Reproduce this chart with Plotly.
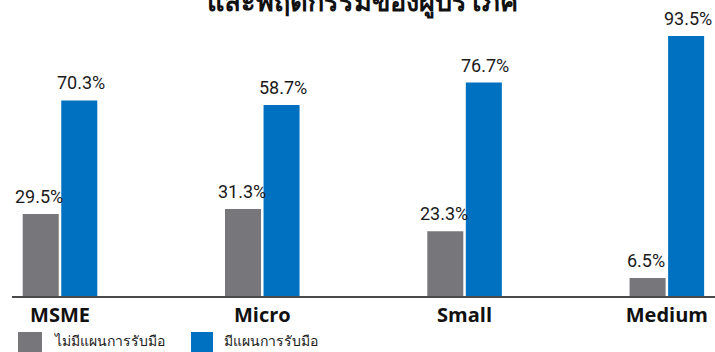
import plotly.graph_objects as go

categories = ["MSME", "Micro", "Small", "Medium"]
no_plan = [29.5, 31.3, 23.3, 6.5]
# bar heights as drawn in the picture (the Micro bar is drawn at ~68.7 although labelled 58.7%)
has_plan = [70.3, 68.7, 76.7, 93.5]
no_plan_labels = ["29.5%", "31.3%", "23.3%", "6.5%"]
has_plan_labels = ["70.3%", "58.7%", "76.7%", "93.5%"]
series_names = ["ไม่มีแผนการรับมือ", "มีแผนการรับมือ"]
title_text = "และพฤติกรรมของผู้บริโภค"

GRAY = "#77777b"
BLUE = "#0071c1"

W, H = 715, 352
ML, MR, MT, MB = 12, 0, 0, 56
PW = W - ML - MR
PH = H - MT - MB

def px_x(px):
    return (px - ML) / PW

def px_y(py):
    return (H - MB - py) / PH

fig = go.Figure()
for name, vals, labels, col, shift in [
        (series_names[0], no_plan, no_plan_labels, GRAY, -20.75),
        (series_names[1], has_plan, has_plan_labels, BLUE, 20.75)]:
    fig.add_trace(go.Bar(
        x=categories, y=vals, name=name,
        marker=dict(color=col, line=dict(width=0)),
        cliponaxis=False,
        showlegend=False,
        hoverinfo="skip",
    ))
    for c, v, lab in zip(categories, vals, labels):
        fig.add_annotation(
            x=c, y=v, xref="x", yref="y", text=lab,
            showarrow=False, xanchor="center", yanchor="bottom",
            xshift=shift, yshift=5,
            font=dict(family="Roboto", size=18, color="#1a1a1a"),
        )

fig.update_layout(
    width=W, height=H,
    margin=dict(l=ML, r=MR, t=MT, b=MB),
    paper_bgcolor="white", plot_bgcolor="white",
    barmode="group", bargap=0.619, bargroupgap=0.065,
    xaxis=dict(
        type="category", range=[-0.2373, 3.238],
        showline=True, linecolor="#4a4a4a", linewidth=1.5,
        showgrid=False, zeroline=False,
        ticks="", ticklen=0,
        tickfont=dict(family="Open Sans", size=20, color="#111111", weight="bold"),
    ),
    yaxis=dict(range=[0, 106.4], visible=False, showgrid=False, zeroline=False),
    font=dict(family="Open Sans"),
)

# partially cropped title at the top
fig.add_annotation(
    xref="paper", yref="paper", x=px_x(362), y=px_y(21),
    xanchor="center", yanchor="bottom", text=f"<b>{title_text}</b>",
    showarrow=False, font=dict(size=27, color="#111111"),
)

# manual legend
for (x0, x1), col, name, tx in [((18, 42), GRAY, series_names[0], 52), ((191, 213), BLUE, series_names[1], 222)]:
    fig.add_shape(type="rect", xref="paper", yref="paper",
                  x0=px_x(x0), x1=px_x(x1), y0=px_y(332), y1=px_y(360),
                  fillcolor=col, line=dict(width=0))
    fig.add_annotation(xref="paper", yref="paper", x=px_x(tx), y=px_y(340),
                       xanchor="left", yanchor="middle", text=name, showarrow=False,
                       font=dict(size=14, color="#1a1a1a"))

fig.write_html(
    "out.html",
    config={"displayModeBar": False},
    post_script="document.body.style.margin='0';document.body.style.overflow='hidden';",
)
